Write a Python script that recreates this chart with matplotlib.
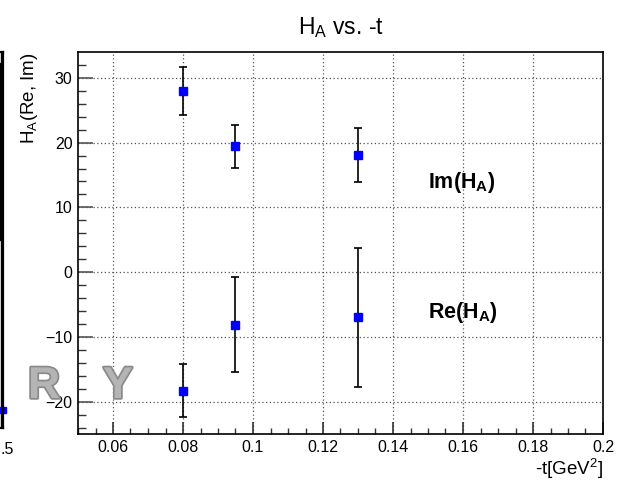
import matplotlib
matplotlib.use("Agg")
import matplotlib.pyplot as plt
import matplotlib.patheffects as pe
from matplotlib.ticker import MultipleLocator

plt.rcParams['font.family'] = ['Liberation Sans', 'DejaVu Sans']
plt.rcParams['mathtext.fontset'] = 'custom'
plt.rcParams['mathtext.rm'] = 'Liberation Sans'
plt.rcParams['mathtext.bf'] = 'Liberation Sans:bold'

# data
t_vals = [0.08, 0.095, 0.13]
im_vals = [27.9, 19.4, 18.05]
im_errs = [3.7, 3.3, 4.15]
re_vals = [-18.2, -8.05, -6.9]
re_errs = [4.15, 7.35, 10.7]

W, H = 625, 482


def px_box(x0, y0, x1, y1):
    # pixel box (top-left origin) -> figure fraction rect
    return [x0 / W, 1 - y1 / H, (x1 - x0) / W, (y1 - y0) / H]


fig = plt.figure(figsize=(W / 100, H / 100), dpi=100)

# fragment of the neighbouring pad on the left edge
axl = fig.add_axes(px_box(-200, 52, 3, 428))
axl.set_xlim(0, 1)
axl.set_ylim(0, 1)
axl.set_xticks([])
axl.set_yticks([])
for s in axl.spines.values():
    s.set_linewidth(1.6)
axl.axvspan(0.985, 1.0, ymin=(428 - 240) / 376, ymax=(428 - 63) / 376, color='black')
axl.axvline(0.9915, color='black', lw=1.0)
axl.plot([1.0], [(428 - 410) / 376], 's', color='blue', ms=5, clip_on=False)
fig.text(0 / W, 1 - 450 / H, '.5', fontsize=11.5, ha='left', va='center')

ax = fig.add_axes(px_box(78, 52, 603, 434))

ax.errorbar(t_vals, im_vals, yerr=im_errs, fmt='s', color='blue', ms=6,
            ecolor='black', elinewidth=1.2, capsize=3, capthick=1.2)
ax.errorbar(t_vals, re_vals, yerr=re_errs, fmt='s', color='blue', ms=6,
            ecolor='black', elinewidth=1.2, capsize=3, capthick=1.2)

ax.set_xlim(0.05, 0.2)
ax.set_ylim(-24.9, 33.95)
ax.xaxis.set_major_locator(MultipleLocator(0.02))
ax.xaxis.set_minor_locator(MultipleLocator(0.005))
ax.yaxis.set_major_locator(MultipleLocator(10))
ax.yaxis.set_minor_locator(MultipleLocator(2))
ax.set_xticks([0.06, 0.08, 0.1, 0.12, 0.14, 0.16, 0.18, 0.2])
ax.set_xticklabels(['0.06', '0.08', '0.1', '0.12', '0.14', '0.16', '0.18', '0.2'])
ax.tick_params(axis='x', which='major', direction='in', length=9, width=1.2,
               color='#333333', labelsize=11.5, pad=4)
ax.tick_params(axis='x', which='minor', direction='in', length=4.5, width=1.0, color='#333333')
ax.tick_params(axis='y', which='major', direction='in', length=11, width=1.2,
               color='#555555', labelsize=11.5, pad=4)
ax.tick_params(axis='y', which='minor', direction='in', length=5.5, width=1.0, color='#333333')

ax.grid(True, which='major', color='#555555', linestyle=(0, (1, 2)), linewidth=0.9)
ax.set_axisbelow(True)
for s in ax.spines.values():
    s.set_linewidth(1.2)

ax.set_title(r'H$_{\mathrm{A}}$ vs. -t', fontsize=16.5, pad=13)
ax.set_ylabel(r'H$_{\mathrm{A}}$(Re, Im)', fontsize=13.5, loc='top', labelpad=4)
ax.set_xlabel(r'-t[GeV$^{\mathrm{2}}$]', fontsize=13.5, loc='right', labelpad=1)

ax.text(0.15, 13.0, r'$\mathbf{Im(H_{A})}$', fontsize=15.5, ha='left', va='baseline')
ax.text(0.15, -6.97, r'$\mathbf{Re(H_{A})}$', fontsize=15.5, ha='left', va='baseline')

# grey watermark letters
for ch, xp in [('R', 28), ('Y', 103)]:
    fig.text(xp / W, 1 - 398 / H, ch, fontsize=32, fontweight='bold',
             color='#b4b4b4', ha='left', va='baseline',
             path_effects=[pe.withStroke(linewidth=2.5, foreground='#8a8a8a')])

fig.savefig('out.png', dpi=100)
